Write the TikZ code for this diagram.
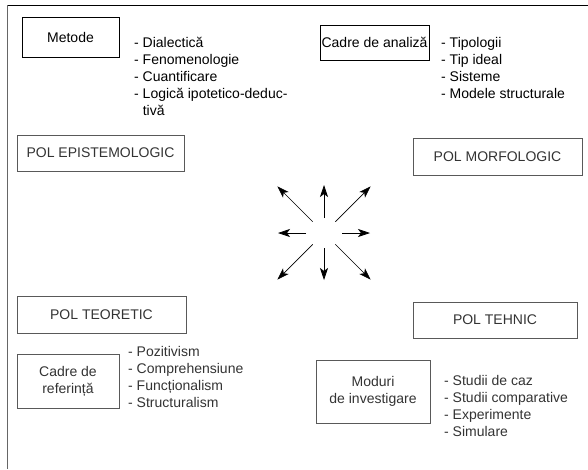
\documentclass[tikz,border=0pt]{standalone}
\usepackage{fontspec}
\setmainfont{Liberation Sans}
\usetikzlibrary{arrows.meta}
\begin{document}
\begin{tikzpicture}[x=1pt,y=-1pt,
  every node/.style={font=\fontsize{14}{17}\selectfont},
  darkbox/.style={draw=black, line width=1pt, inner sep=0pt, align=center},
  lightbox/.style={draw=black!65, line width=0.8pt, inner sep=0pt, align=center, text=black!80},
  toplist/.style={anchor=north west, inner sep=0pt, align=left},
  lowlist/.style={anchor=north west, inner sep=0pt, align=left, text=black!80},
  arr/.style={line width=0.7pt, -{Stealth[length=12pt,width=8pt,inset=3pt]}}]
\useasboundingbox (0,0) rectangle (588,469);
% frame
\draw[line width=1pt] (7,5) -- (588,5);
\draw[line width=0.6pt, black!60] (7,5) -- (7,469);
% top left
\node[darkbox, minimum width=97pt, minimum height=40pt] (metode) at (70.5,37) {Metode};
\node[toplist] (lmetode) at (134,37) {- Dialectică\\- Fenomenologie\\- Cuantificare\\- Logică ipotetico-deduc-\\\hphantom{-\ }tivă};
\node[lightbox, minimum width=167pt, minimum height=36pt] (episte) at (100.5,153) {POL EPISTEMOLOGIC};
% top right
\node[darkbox, minimum width=109pt, minimum height=35pt] (cadrea) at (374.5,42.5) {Cadre de analiză};
\node[toplist] (lcadrea) at (441,37.5) {- Tipologii\\- Tip ideal\\- Sisteme\\- Modele structurale};
\node[lightbox, minimum width=169pt, minimum height=37pt] (morfo) at (497.5,156.5) {POL MORFOLOGIC};
% center arrows
\coordinate (c) at (324,233);
\foreach \a/\ra/\rb in {90/15/47, 270/15/48, 0/18/46, 180/18/46, 45/16/66, 135/16/66, 225/16/66, 315/16/66}
  \draw[arr] ([shift={(\a:\ra)}]c) -- ([shift={(\a:\rb)}]c);
% bottom left
\node[lightbox, minimum width=169pt, minimum height=37pt] (teoretic) at (101.5,314.5) {POL TEORETIC};
\node[lightbox, minimum width=102pt, minimum height=54pt] (cadrer) at (68,381) {Cadre de\\referință};
\node[lowlist] (lcadrer) at (128,346) {- Pozitivism\\- Comprehensiune\\- Funcționalism\\- Structuralism};
% bottom right
\node[lightbox, minimum width=164pt, minimum height=36pt] (tehnic) at (495,320) {POL TEHNIC};
\node[lightbox, minimum width=114pt, minimum height=63pt] (moduri) at (373,391.5) {Moduri\\de investigare};
\node[lowlist] (lmoduri) at (444,375) {- Studii de caz\\- Studii comparative\\- Experimente\\- Simulare};
\end{tikzpicture}
\end{document}
